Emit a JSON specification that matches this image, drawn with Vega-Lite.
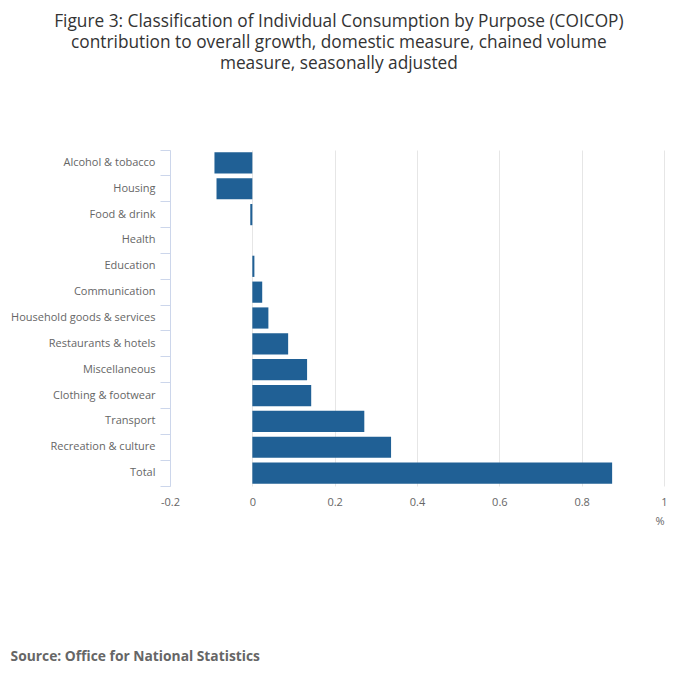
{
  "$schema": "https://vega.github.io/schema/vega-lite/v6.json",
  "padding": {"left": 10, "top": 12, "right": 10, "bottom": 10},
  "background": "#ffffff",
  "config": {
    "font": "Open Sans",
    "view": {"stroke": null}
  },
  "title": {
    "text": [
      "Figure 3: Classification of Individual Consumption by Purpose (COICOP)",
      "contribution to overall growth, domestic measure, chained volume",
      "measure, seasonally adjusted"
    ],
    "font": "Open Sans",
    "fontSize": 17.3,
    "fontWeight": "normal",
    "lineHeight": 21,
    "color": "#333333",
    "anchor": "middle",
    "offset": 72
  },
  "vconcat": [
    {
      "title": {
        "text": "Source: Office for National Statistics",
        "orient": "bottom",
        "anchor": "start",
        "frame": "bounds",
        "font": "Open Sans",
        "fontSize": 13.8,
        "fontWeight": "bold",
        "color": "#666666",
        "offset": 124
      },
      "width": 494,
      "height": 336,
      "data": {
        "values": [
          {"category": "Alcohol & tobacco", "contribution": -0.092},
          {"category": "Housing", "contribution": -0.087},
          {"category": "Food & drink", "contribution": -0.005},
          {"category": "Health", "contribution": 0},
          {"category": "Education", "contribution": 0.005},
          {"category": "Communication", "contribution": 0.024},
          {"category": "Household goods & services", "contribution": 0.039},
          {"category": "Restaurants & hotels", "contribution": 0.087},
          {"category": "Miscellaneous", "contribution": 0.133},
          {"category": "Clothing & footwear", "contribution": 0.143},
          {"category": "Transport", "contribution": 0.272},
          {"category": "Recreation & culture", "contribution": 0.337},
          {"category": "Total", "contribution": 0.874}
        ]
      },
      "mark": {"type": "bar", "color": "#206095", "height": {"band": 0.82}},
      "encoding": {
        "y": {
          "field": "category",
          "type": "nominal",
          "sort": null,
          "scale": {"paddingInner": 0, "paddingOuter": 0},
          "axis": {
            "title": null,
            "bandPosition": 1,
            "tickExtra": true,
            "domainColor": "#ccd6eb",
            "tickColor": "#ccd6eb",
            "tickSize": 10,
            "labelPadding": 5,
            "labelFont": "Open Sans",
            "labelFontSize": 11,
            "labelColor": "#666666",
            "grid": false
          }
        },
        "x": {
          "field": "contribution",
          "type": "quantitative",
          "scale": {"domain": [-0.2, 1], "nice": false},
          "axis": {
            "title": "%",
            "titleFont": "Open Sans",
            "titleFontSize": 11,
            "titleFontWeight": "normal",
            "titleColor": "#666666",
            "titleAnchor": "end",
            "titlePadding": 8,
            "values": [-0.2, 0, 0.2, 0.4, 0.6, 0.8, 1],
            "labelExpr": "datum.value + ''",
            "domain": false,
            "ticks": false,
            "labelPadding": 10,
            "labelFont": "Open Sans",
            "labelFontSize": 11,
            "labelColor": "#666666",
            "labelFlush": false,
            "grid": true,
            "gridColor": "#e6e6e6"
          }
        }
      }
    }
  ]
}
